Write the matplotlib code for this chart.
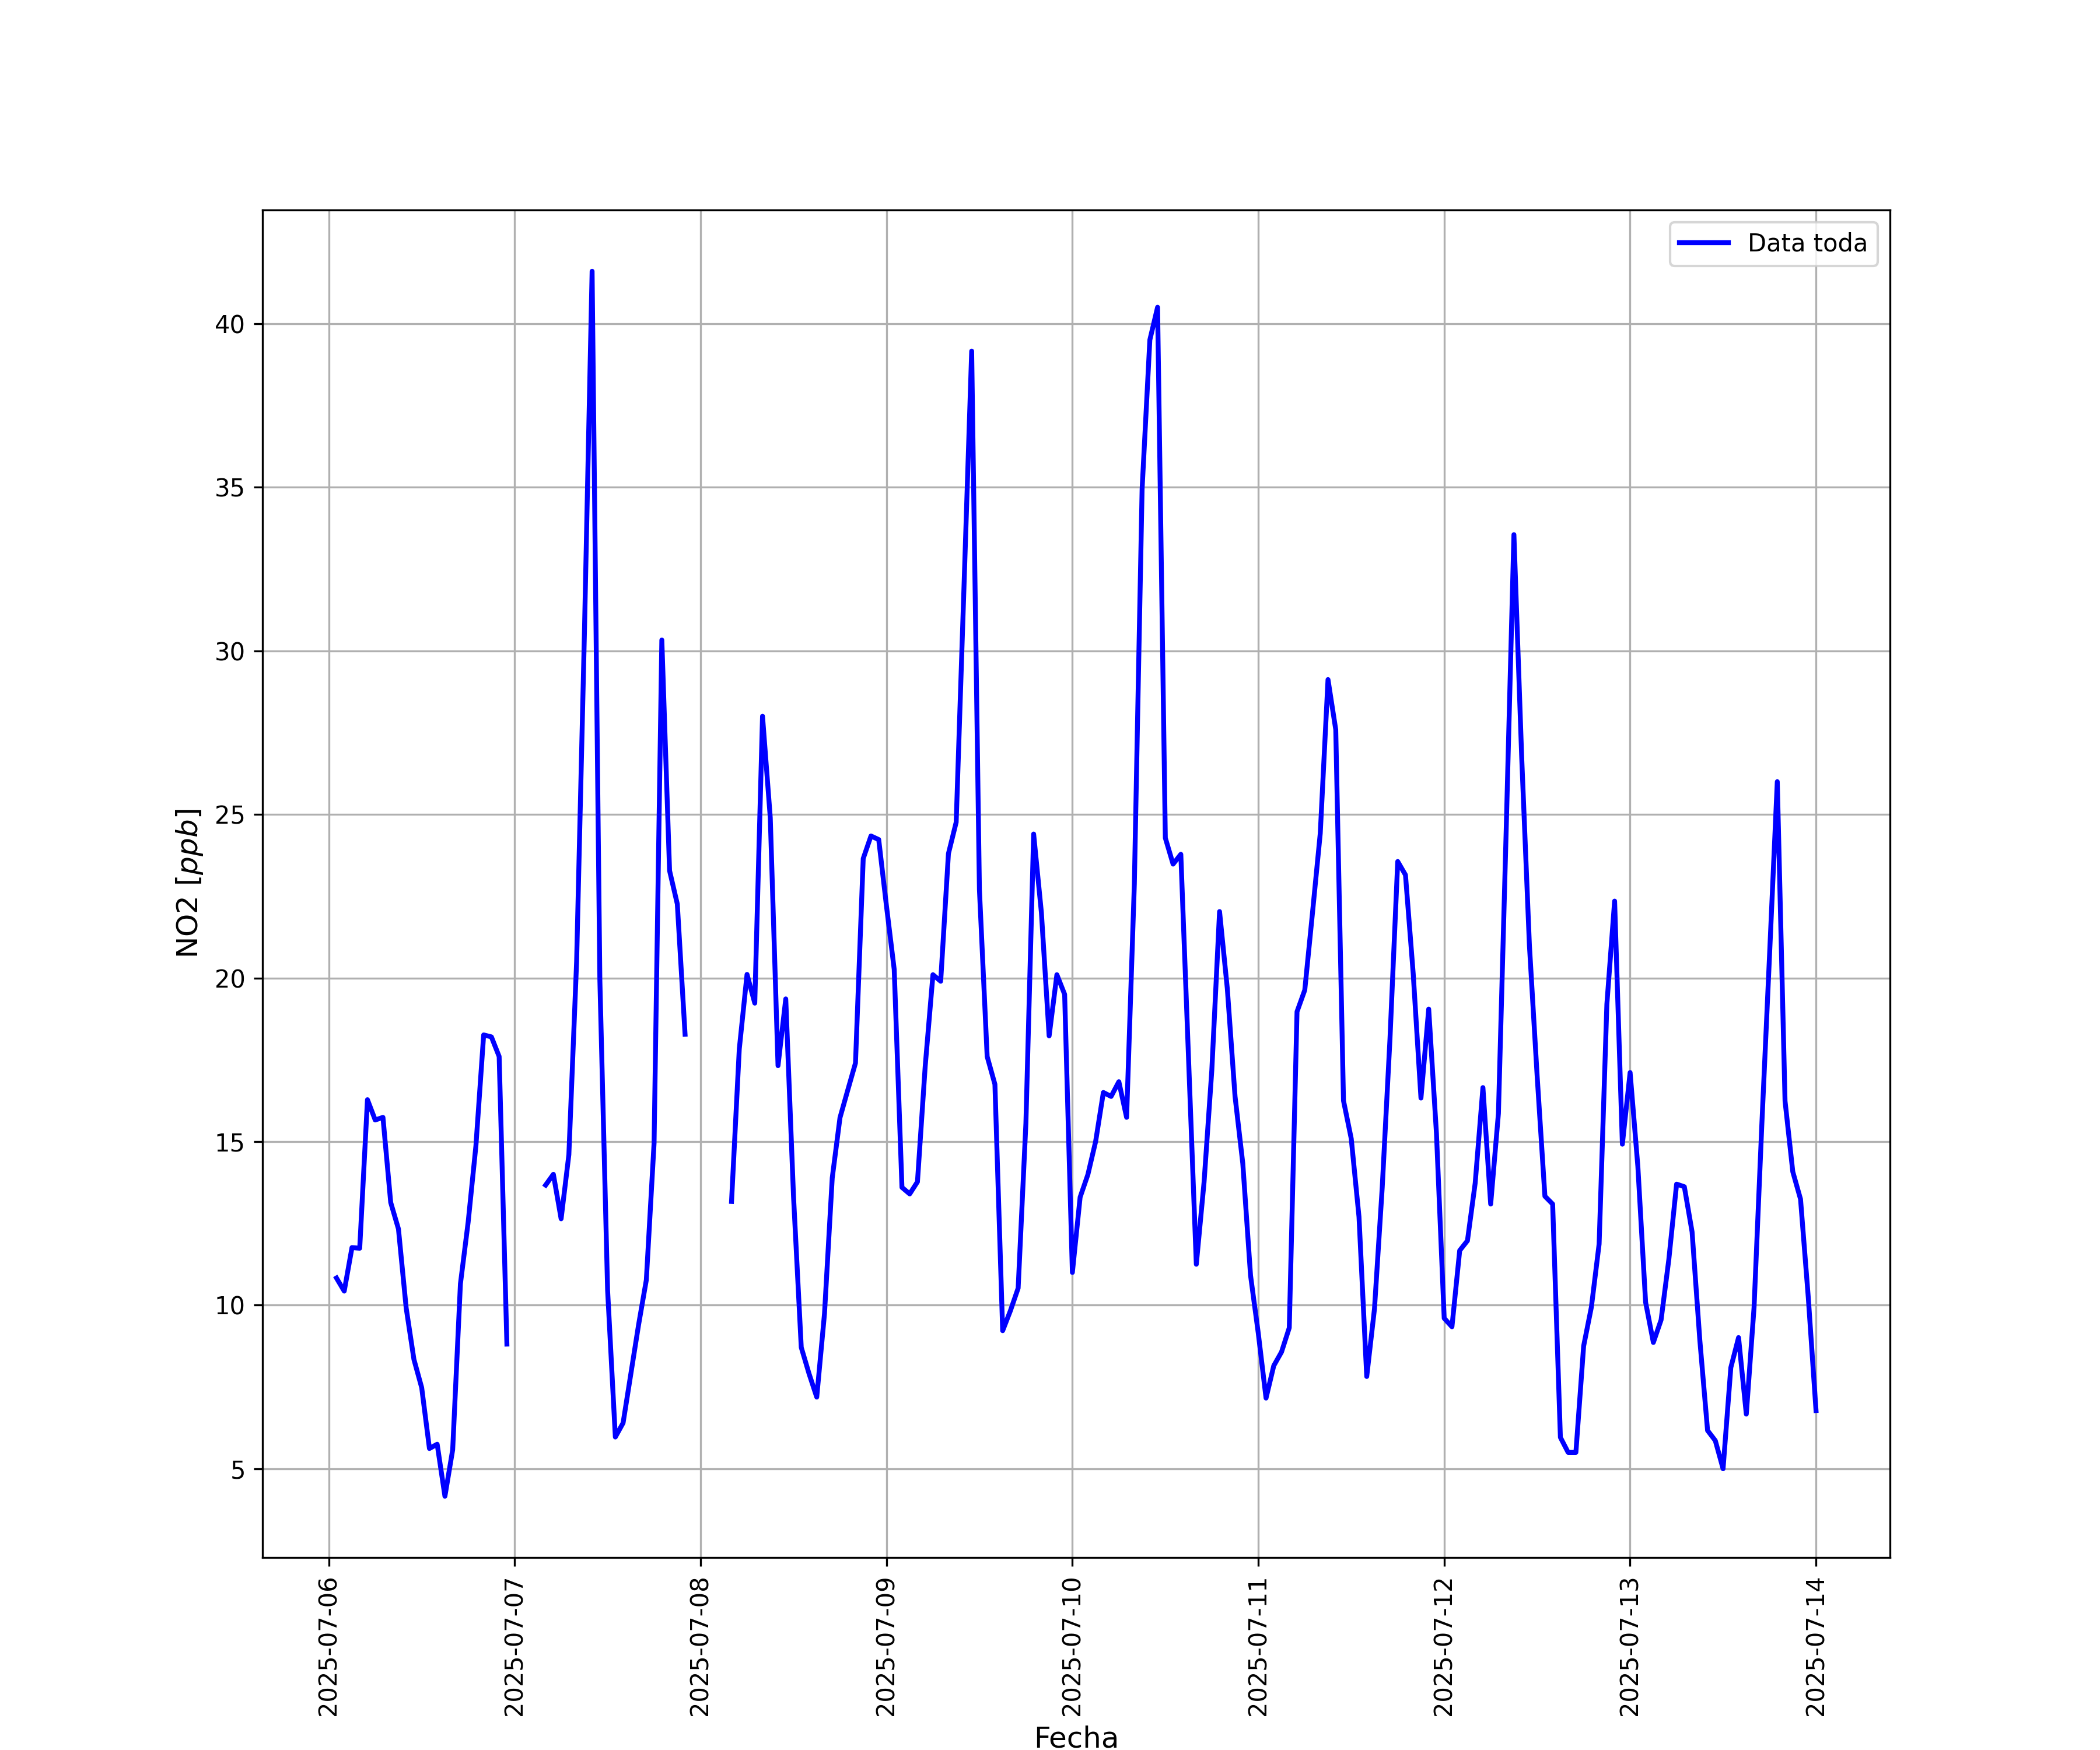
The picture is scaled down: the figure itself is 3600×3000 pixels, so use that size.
import numpy as np
import pandas as pd
import matplotlib
matplotlib.use("Agg")
import matplotlib.pyplot as plt
import matplotlib.dates as mdates

nan = np.nan

# NO2 hourly values [ppb], one list per day (hour 0..23)
dia_0706 = [10.83, 10.43, 11.76, 11.74, 16.28, 15.66, 15.74, 13.14, 12.33, 9.91, 8.34, 7.48,
            5.62, 5.75, 4.16, 5.58, 10.65, 12.54, 14.87, 18.26, 18.2, 17.6, 8.81]  # starts at 01:00
dia_0707 = [nan, nan, nan, nan, 13.67, 14.0, 12.64, 14.6, 20.5, 30.46, 41.6, 19.95,
            10.46, 5.97, 6.4, 7.9, 9.4, 10.77, 14.95, 30.33, 23.28, 22.26, 18.28, nan]
dia_0708 = [nan, nan, nan, nan, 13.17, 17.83, 20.11, 19.23, 28.0, 24.9, 17.32, 19.36,
            13.33, 8.71, 7.91, 7.19, 9.74, 13.89, 15.73, 16.57, 17.4, 23.65, 24.34, 24.23]
dia_0709 = [22.2, 20.26, 13.6, 13.4, 13.77, 17.3, 20.1, 19.9, 23.8, 24.76, 31.9, 39.16,
            22.7, 17.6, 16.75, 9.22, 9.83, 10.52, 15.56, 24.4, 22.0, 18.23, 20.1, 19.5]
dia_0710 = [11.0, 13.3, 13.99, 15.0, 16.5, 16.38, 16.83, 15.74, 22.87, 34.94, 39.5, 40.5,
            24.28, 23.48, 23.78, 17.5, 11.25, 13.76, 17.18, 22.03, 19.68, 16.38, 14.33, 10.91]
dia_0711 = [9.14, 7.16, 8.15, 8.57, 9.31, 18.97, 19.63, 22.0, 24.42, 29.12, 27.59, 16.25,
            15.09, 12.7, 7.82, 9.89, 13.6, 18.14, 23.56, 23.15, 20.13, 16.33, 19.05, 15.25]
dia_0712 = [9.6, 9.34, 11.67, 11.97, 13.73, 16.65, 13.09, 15.86, 24.5, 33.55, 26.77, 21.0,
            17.0, 13.33, 13.09, 5.96, 5.5, 5.5, 8.75, 9.94, 11.87, 19.2, 22.35, 14.92]
dia_0713 = [17.11, 14.24, 10.09, 8.86, 9.55, 11.4, 13.7, 13.62, 12.24, 8.93, 6.17, 5.86,
            5.0, 8.09, 9.01, 6.67, 9.93, 15.5, 20.7, 26.0, 16.24, 14.08, 13.24, 10.24]
dia_0714 = [6.78]

def main():
    valores = (dia_0706 + dia_0707 + dia_0708 + dia_0709 + dia_0710 +
               dia_0711 + dia_0712 + dia_0713 + dia_0714)
    fechas = pd.date_range("2025-07-06 01:00", periods=len(valores), freq="h")

    fig, ax = plt.subplots(figsize=(12, 10), dpi=300)
    ax.plot(fechas, valores, color="blue", linewidth=2, label="Data toda")

    ax.xaxis.set_major_locator(mdates.DayLocator())
    ax.xaxis.set_major_formatter(mdates.DateFormatter("%Y-%m-%d"))
    plt.setp(ax.get_xticklabels(), rotation=90)

    ax.set_xlabel("Fecha", fontsize=12)
    ax.set_ylabel("NO2 [$ppb$]", fontsize=12)
    ax.grid(True)
    ax.legend(loc="upper right")

    fig.savefig("out.png", dpi=300)

if __name__ == "__main__":
    main()
